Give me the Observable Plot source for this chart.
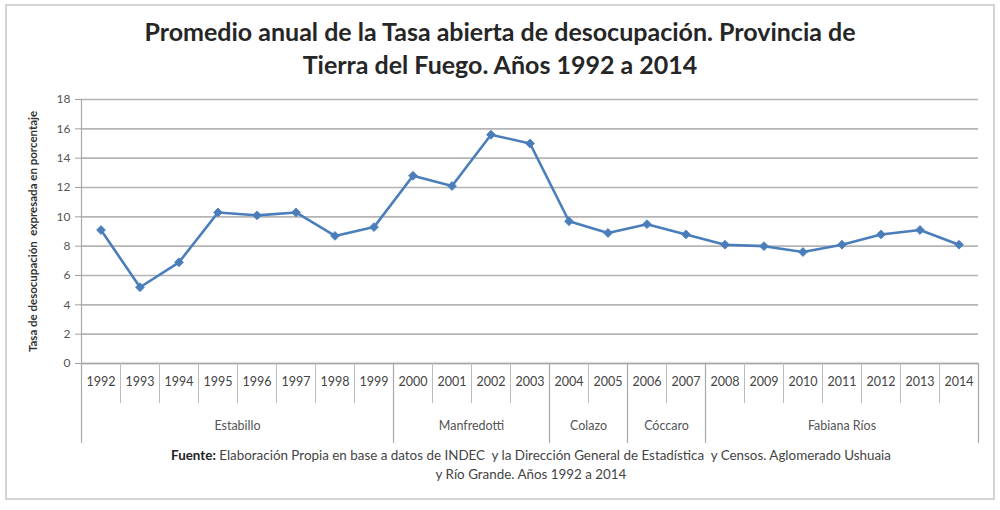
<!DOCTYPE html>
<html><head><meta charset="utf-8">
<script src="https://cdn.jsdelivr.net/npm/d3@7"></script>
<script src="https://cdn.jsdelivr.net/npm/@observablehq/plot@0.6"></script>
<style>
body{margin:0;background:#fff;font-family:Lato,"Open Sans",sans-serif;}
#frame{position:absolute;left:5px;top:4px;width:990px;height:496px;border:2px solid #d4d4d4;box-sizing:border-box;}
#title{position:absolute;left:0;top:15px;width:1000px;text-align:center;font-weight:bold;font-size:25px;line-height:33px;color:#262626;}
#chart{position:absolute;left:0;top:88px;}
#foot{position:absolute;left:62px;top:446px;width:938px;text-align:center;font-size:13.4px;line-height:19px;color:#444;}
#foot b{color:#222;}
</style></head><body>
<div id="frame"></div>
<div id="title">Promedio anual de la Tasa abierta de desocupación. Provincia de<br>Tierra del Fuego. Años 1992 a 2014</div>
<div id="chart"></div>
<div id="foot"><b>Fuente:</b> Elaboración Propia en base a datos de INDEC&nbsp; y la Dirección General de Estadística&nbsp; y Censos. Aglomerado Ushuaia<br>y Río Grande. Años 1992 a 2014</div>
<script>
const years = [1992,1993,1994,1995,1996,1997,1998,1999,2000,2001,2002,2003,2004,2005,2006,2007,2008,2009,2010,2011,2012,2013,2014];
const rates = [9.1,5.2,6.9,10.3,10.1,10.3,8.7,9.3,12.8,12.1,15.6,15.0,9.7,8.9,9.5,8.8,8.1,8.0,7.6,8.1,8.8,9.1,8.1];
const governors = ["Estabillo","Manfredotti","Colazo","Cóccaro","Fabiana Ríos"];
const govStart = [1992,2000,2004,2006,2008];
const govEnd = [1999,2003,2005,2007,2014];
const yTicks = [0,2,4,6,8,10,12,14,16,18];
const yTitle = "Tasa de desocupación  expresada en porcentaje";

const data = years.map((y,i)=>({year:y, rate:rates[i]}));
const yearBounds = years.map(y=>y-0.5).concat([years[years.length-1]+0.5]);
const govBounds = govStart.map(s=>s-0.5).concat([govEnd[govEnd.length-1]+0.5]);
const govs = governors.map((g,i)=>({name:g, mid:(govStart[i]+govEnd[i])/2}));
const blue = "#4a7ebb";

const chart = Plot.plot({
  width: 1000, height: 357,
  marginLeft: 81, marginRight: 22, marginTop: 11, marginBottom: 82,
  style: {fontFamily: "Lato, 'Open Sans', sans-serif", fontSize: "12px", color: "#555", background: "transparent"},
  x: {type: "linear", domain: [years[0]-0.5, years[years.length-1]+0.5], axis: null},
  y: {domain: [0, 18], axis: null},
  marks: [
    Plot.gridY(yTicks, {stroke: "#b4b4b4", strokeOpacity: 1, strokeWidth: 1.6}),
    Plot.axisY(yTicks, {tickSize: 6, tickPadding: 5, stroke: "#a0a0a0", fill: "#555", fontSize: 12, label: null}),
    Plot.ruleX([yearBounds[0]], {y1: 0, y2: 18, stroke: "#a8a8a8", strokeWidth: 1.2}),
    Plot.ruleY([0], {stroke: "#a8a8a8", strokeWidth: 1.4}),
    Plot.ruleX(yearBounds, {x: d=>d, y1: 0, y2: 0, insetBottom: -40, stroke: "#bbbbbb", strokeWidth: 1}),
    Plot.ruleX(govBounds, {x: d=>d, y1: 0, y2: 0, insetBottom: -80, stroke: "#a8a8a8", strokeWidth: 1.2}),
    Plot.text(years, {x: d=>d, frameAnchor: "bottom", dy: 22, text: d=>String(d), fill: "#444", fontSize: 12.5}),
    Plot.text(govs, {x: "mid", frameAnchor: "bottom", dy: 66, text: "name", fill: "#555", fontSize: 12.5}),
    Plot.text([yTitle], {frameAnchor: "left", textAnchor: "middle", rotate: -90, dx: -48, text: d=>d, fontWeight: "bold", fill: "#333", fontSize: 11.5}),
    Plot.line(data, {x: "year", y: "rate", stroke: blue, strokeWidth: 2.6}),
    Plot.dot(data, {x: "year", y: "rate", symbol: "diamond2", r: 4, fill: blue, stroke: blue, strokeWidth: 0.8})
  ]
});
document.getElementById("chart").appendChild(chart);
</script>
</body></html>
